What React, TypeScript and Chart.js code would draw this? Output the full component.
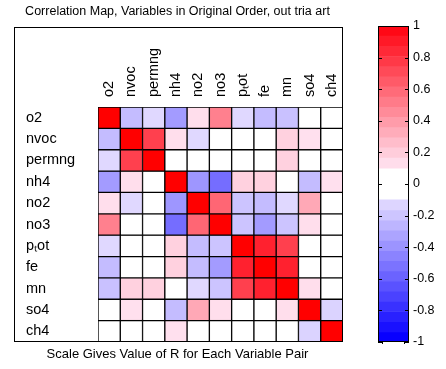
import React, { useEffect, useRef } from 'react';
import { Chart, registerables } from 'chart.js';
Chart.register(...registerables);

const TITLE = 'Correlation Map, Variables in Original Order, out tria art';
const CAPTION = 'Scale Gives Value of R for Each Variable Pair';
const VARIABLES = ['o2', 'nvoc', 'permng', 'nh4', 'no2', 'no3', 'pₜot', 'fe', 'mn', 'so4', 'ch4'];

// correlation rows (columns in same order as VARIABLES)
const R_O2 = [1, -0.23, -0.12, -0.36, 0.13, 0.5, -0.12, -0.23, -0.21, 0, 0];
const R_NVOC = [-0.23, 1, 0.75, 0.13, -0.12, 0, 0, 0, 0.18, 0.12, 0];
const R_PERMNG = [-0.12, 0.75, 1, 0, 0, 0, 0, 0, 0.18, 0, 0];
const R_NH4 = [-0.36, 0.13, 0, 1, -0.38, -0.54, 0.18, 0.18, 0, -0.23, 0.12];
const R_NO2 = [0.13, -0.12, 0, -0.38, 1, 0.6, -0.2, -0.23, -0.12, 0.34, 0];
const R_NO3 = [0.5, 0, 0, -0.54, 0.6, 1, -0.2, -0.36, -0.2, 0.13, 0];
const R_PTOT = [-0.12, 0, 0, 0.18, -0.23, -0.2, 1, 0.87, 0.75, 0, 0];
const R_FE = [-0.23, 0, 0, 0.18, -0.23, -0.36, 0.87, 1, 0.87, 0, 0];
const R_MN = [-0.21, 0.18, 0.18, 0, -0.12, -0.2, 0.75, 0.87, 1, 0.13, 0];
const R_SO4 = [0, 0.12, 0, -0.23, 0.34, 0.13, 0, 0, 0.13, 1, -0.14];
const R_CH4 = [0, 0, 0, 0.12, 0, 0, 0, 0, 0, -0.14, 1];
const MATRIX = [R_O2, R_NVOC, R_PERMNG, R_NH4, R_NO2, R_NO3, R_PTOT, R_FE, R_MN, R_SO4, R_CH4];

const COLORBAR_TICKS = [1, 0.8, 0.6, 0.4, 0.2, 0, -0.2, -0.4, -0.6, -0.8, -1];
const WHITE_LIMIT = 0.1;
const BANDS_PER_SIDE = 14;

const FONT = '"Liberation Sans", Arial, sans-serif';

function colorFor(v: number): string {
  if (Math.abs(v) < WHITE_LIMIT) return 'rgb(255,255,255)';
  if (v > 0) {
    const g = Math.round(255 * (1 - v));
    const b = v >= 0.99 ? 0 : Math.min(255, g + 14);
    return `rgb(255,${g},${b})`;
  }
  const r = Math.round(255 * (1 + v));
  const g = Math.max(0, r - 8);
  return `rgb(${r},${g},255)`;
}

function buildBands() {
  const bands: { lo: number; hi: number; c: string }[] = [];
  const step = (1 - WHITE_LIMIT) / BANDS_PER_SIDE;
  for (let k = 0; k < BANDS_PER_SIDE; k++) {
    const lo = WHITE_LIMIT + k * step;
    const hi = lo + step;
    bands.push({ lo, hi, c: colorFor((lo + hi) / 2) });
    bands.push({ lo: -hi, hi: -lo, c: colorFor(-(lo + hi) / 2) });
  }
  bands.push({ lo: -WHITE_LIMIT, hi: WHITE_LIMIT, c: 'rgb(255,255,255)' });
  return bands;
}

export default function App() {
  const mainRef = useRef<HTMLCanvasElement>(null);
  const barRef = useRef<HTMLCanvasElement>(null);

  useEffect(() => {
    const framePlugin = {
      id: 'frame',
      afterDraw(chart: any) {
        const ctx = chart.ctx;
        const a = chart.chartArea;
        const xs = chart.scales.x;
        ctx.save();
        ctx.strokeStyle = '#000';
        ctx.lineWidth = 1;
        ctx.strokeRect(14.5, 27.5, a.right - 0.5 - 14.5, a.bottom - 0.5 - 27.5);
        ctx.fillStyle = '#000';
        // column labels (rotated, reading upward)
        ctx.font = `14.5px ${FONT}`;
        ctx.textAlign = 'left';
        ctx.textBaseline = 'middle';
        VARIABLES.forEach((lab, i) => {
          const x = xs.getPixelForValue(i);
          ctx.save();
          ctx.translate(x, a.top - 10);
          ctx.rotate(-Math.PI / 2);
          ctx.fillText(lab, 0, 0);
          ctx.restore();
        });
        ctx.textAlign = 'center';
        ctx.textBaseline = 'middle';
        ctx.font = `12.5px ${FONT}`;
        ctx.fillText(TITLE, 177.5, 12);
        ctx.font = `13px ${FONT}`;
        ctx.fillText(CAPTION, 177.5, 354);
        ctx.restore();
      },
    };

    const datasets = MATRIX.map((row, i) => ({
      label: VARIABLES[i],
      data: row.map(() => [i, i + 1]),
      backgroundColor: row.map((v) => colorFor(v)),
      borderColor: '#000',
      borderWidth: 1,
      borderSkipped: false,
      barPercentage: 1,
      categoryPercentage: 1,
      grouped: false,
    }));

    const main = new Chart(mainRef.current!, {
      type: 'bar',
      data: { labels: VARIABLES, datasets: datasets as any },
      options: {
        responsive: false,
        animation: false,
        devicePixelRatio: 1,
        layout: { padding: { left: 26, top: 0, right: 17, bottom: 27 } },
        plugins: { legend: { display: false }, tooltip: { enabled: false }, title: { display: false } },
        scales: {
          x: {
            type: 'category',
            position: 'top',
            offset: true,
            grid: { display: false, drawTicks: false },
            border: { display: false },
            ticks: { display: false, autoSkip: false },
            afterFit(scale: any) {
              scale.height = 107;
            },
          },
          y: {
            type: 'linear',
            min: 0,
            max: VARIABLES.length,
            reverse: true,
            grid: { display: false, drawTicks: false },
            border: { display: false },
            afterBuildTicks(scale: any) {
              scale.ticks = VARIABLES.map((_, i) => ({ value: i + 0.5 }));
            },
            ticks: {
              crossAlign: 'far',
              color: '#000',
              font: { family: FONT, size: 14.5 },
              callback: (val: any) => VARIABLES[Math.floor(Number(val))] ?? '',
            },
            afterFit(scale: any) {
              scale.width = 72;
            },
          },
        },
      } as any,
      plugins: [framePlugin],
    });

    const bands = buildBands();
    const cbPlugin = {
      id: 'cbframe',
      afterDraw(chart: any) {
        const ctx = chart.ctx;
        const a = chart.chartArea;
        const ys = chart.scales.y;
        ctx.save();
        ctx.strokeStyle = '#000';
        ctx.lineWidth = 1;
        ctx.strokeRect(a.left + 0.5, a.top + 0.5, a.right - a.left - 1, a.bottom - a.top - 1);
        ctx.beginPath();
        COLORBAR_TICKS.forEach((t) => {
          const y = Math.round(ys.getPixelForValue(t)) + 0.5;
          ctx.moveTo(a.left, y);
          ctx.lineTo(a.left + 4, y);
          ctx.moveTo(a.right - 4, y);
          ctx.lineTo(a.right, y);
        });
        ctx.moveTo(a.left + 4.5, a.bottom);
        ctx.lineTo(a.left + 4.5, a.bottom + 2);
        ctx.moveTo(a.right - 4.5, a.bottom);
        ctx.lineTo(a.right - 4.5, a.bottom + 2);
        ctx.stroke();
        ctx.restore();
      },
    };

    const cb = new Chart(barRef.current!, {
      type: 'bar',
      data: {
        labels: ['R'],
        datasets: bands.map((b) => ({
          data: [[b.lo, b.hi]],
          backgroundColor: b.c,
          borderWidth: 0,
          barPercentage: 1,
          categoryPercentage: 1,
          grouped: false,
        })) as any,
      },
      options: {
        responsive: false,
        animation: false,
        devicePixelRatio: 1,
        layout: { padding: { left: 18, top: 26, right: 0, bottom: 27 } },
        plugins: { legend: { display: false }, tooltip: { enabled: false } },
        scales: {
          x: { display: false, offset: true },
          y: {
            type: 'linear',
            position: 'right',
            min: -1,
            max: 1,
            grid: { display: false, drawTicks: false },
            border: { display: false },
            afterBuildTicks(scale: any) {
              scale.ticks = COLORBAR_TICKS.map((v) => ({ value: v }));
            },
            ticks: {
              padding: 4,
              color: '#000',
              font: { family: FONT, size: 12.5 },
              callback: (val: any) => {
                const r = Math.round(Number(val) * 10) / 10;
                return r === 0 ? '0' : String(r);
              },
            },
            afterFit(scale: any) {
              scale.width = 37;
            },
          },
        },
      } as any,
      plugins: [cbPlugin],
    });

    return () => {
      main.destroy();
      cb.destroy();
    };
  }, []);

  return (
    <div style={{ position: 'absolute', left: 0, top: 0, width: 446, height: 369, background: '#fff' }}>
      <canvas
        ref={mainRef}
        width={360}
        height={369}
        style={{ position: 'absolute', left: 0, top: 0, width: 360, height: 369 }}
      />
      <canvas
        ref={barRef}
        width={86}
        height={369}
        style={{ position: 'absolute', left: 360, top: 0, width: 86, height: 369 }}
      />
    </div>
  );
}
